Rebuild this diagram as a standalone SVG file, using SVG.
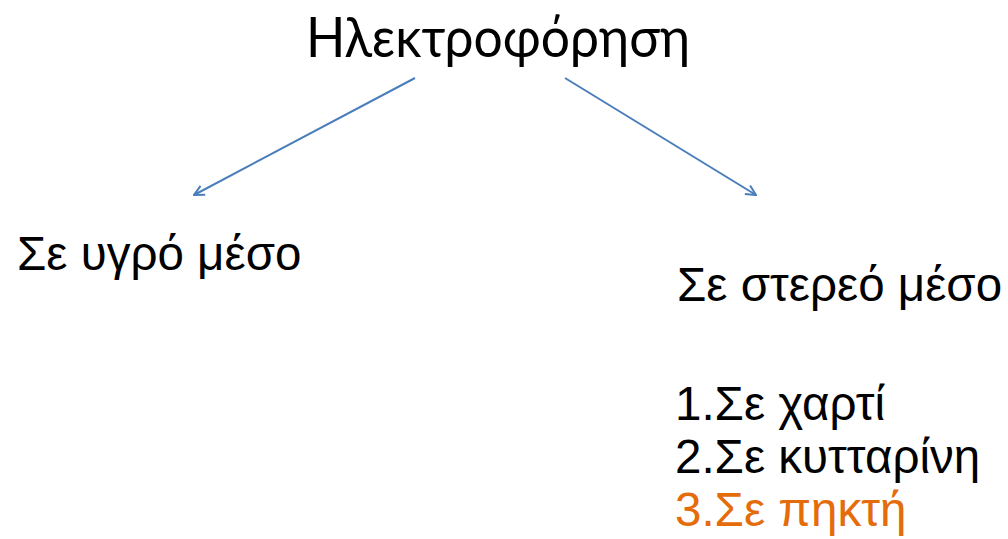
<svg xmlns="http://www.w3.org/2000/svg" width="1008" height="539" viewBox="0 0 1008 539">
<style>
text{font-family:"Liberation Sans",Arial,sans-serif;font-size:47.5px;fill:#000}
.t{font-family:Lato,"Noto Sans",sans-serif;font-size:57px}
.o{fill:#E46C0A}
.c{stroke:#4A7EBB;stroke-width:2;fill:none}
</style>
<defs>
<marker id="a" viewBox="0 0 12 12" refX="11" refY="6" markerWidth="12" markerHeight="12" markerUnits="userSpaceOnUse" orient="auto">
<path d="M1,1 L11,6 L1,11" fill="none" stroke="#4A7EBB" stroke-width="2"/>
</marker>
</defs>
<rect width="1008" height="539" fill="#fff"/>
<g id="title"><text class="t" x="0" y="0" text-anchor="middle" transform="translate(498,56.5) scale(0.905,1)">Ηλεκτροφόρηση</text></g>
<g id="liquid"><text x="17" y="270">Σε υγρό μέσο</text></g>
<g id="solid">
<text x="677" y="301">Σε στερεό μέσο</text>
<text x="675" y="420">1.Σε χαρτί</text>
<text x="675" y="473">2.Σε κυτταρίνη</text>
<text x="675" y="526" class="o">3.Σε πηκτή</text>
</g>
<g id="connectors">
<line class="c" x1="415" y1="78" x2="194" y2="195" marker-end="url(#a)"/>
<line class="c" x1="565" y1="78" x2="756" y2="195" marker-end="url(#a)"/>
</g>
</svg>
